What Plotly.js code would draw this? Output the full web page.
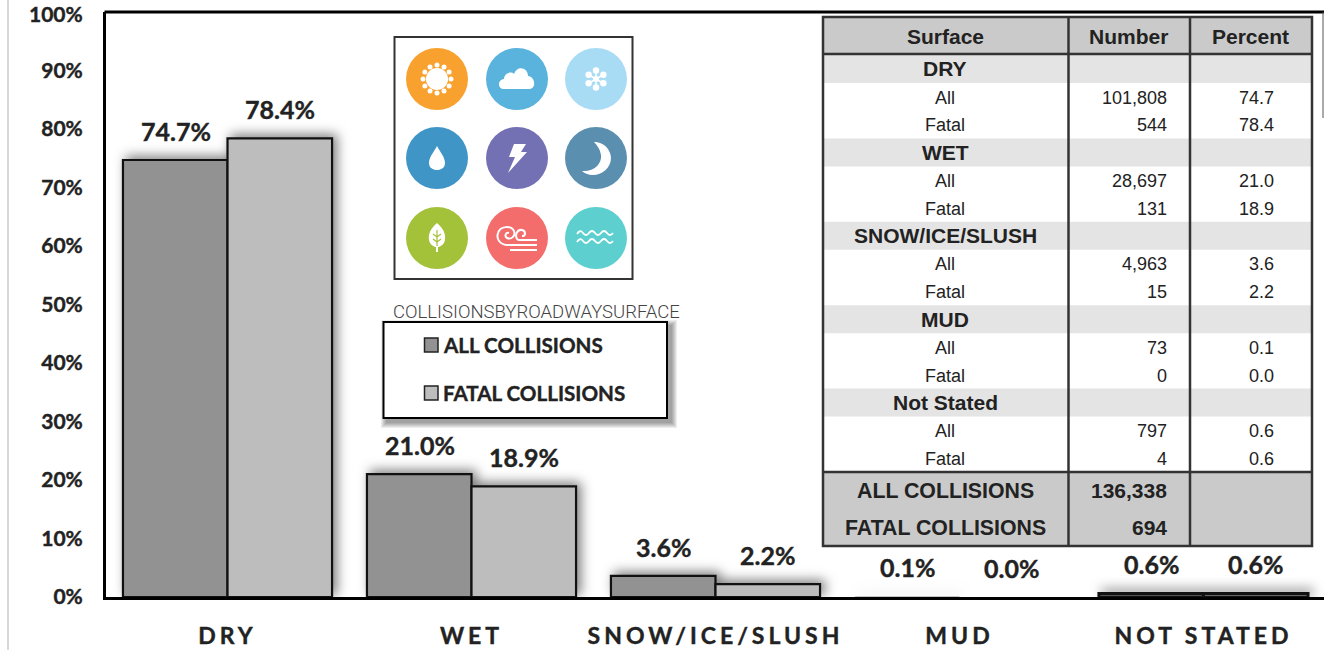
<!DOCTYPE html>
<html>
<head>
<meta charset="utf-8">
<script src="https://cdn.plot.ly/plotly-3.0.1.min.js"></script>
<style>
html,body{margin:0;padding:0;background:#fff;overflow:hidden}
#chart{width:1324px;height:650px}
.barlayer{filter:drop-shadow(4px -3px 6px rgba(0,0,0,.5))}
.xtick text{letter-spacing:4px}
text[style*="Lato"]{stroke:#222;stroke-width:.4px}
</style>
</head>
<body>
<div id="chart"></div>
<script>
var categories=['DRY','WET','SNOW/ICE/SLUSH','MUD','NOT STATED'];
var allCollisions=[74.7,21.0,3.6,0.1,0.6];
var fatalCollisions=[78.4,18.9,2.2,0.0,0.6];
var seriesNames=['ALL COLLISIONS','FATAL COLLISIONS'];
var yTicks=[0,10,20,30,40,50,60,70,80,90];
var yTopLabel='100%';
var tableHeader=['Surface','Number','Percent'];
var rowSurface=['DRY','All','Fatal','WET','All','Fatal','SNOW/ICE/SLUSH','All','Fatal','MUD','All','Fatal','Not Stated','All','Fatal'];
var rowNumber=['','101,808','544','','28,697','131','','4,963','15','','73','0','','797','4'];
var rowPercent=['','74.7','78.4','','21.0','18.9','','3.6','2.2','','0.1','0.0','','0.6','0.6'];
var totalLabels=['ALL COLLISIONS','FATAL COLLISIONS'];
var totalNumbers=['136,338','694'];
var chartTitleText='COLLISIONSBYROADWAYSURFACE';

var W=1324,H=650,L=106,T=12,B=53;
var PW=W-L,PH=H-T-B;
function px(x){return (x-L)/PW;}
function py(y){return 1-(y-T)/PH;}
var shapes=[],ann=[];
function rect(x0,y0,x1,y1,fill,lc,lw,op){
  shapes.push({type:'rect',xref:'paper',yref:'paper',x0:px(x0),x1:px(x1),y0:py(y0),y1:py(y1),
    fillcolor:fill,opacity:op===undefined?1:op,line:{color:lc||'rgba(0,0,0,0)',width:lw||0},layer:'above'});
}
function circle(cx,cy,r,fill){
  shapes.push({type:'circle',xref:'paper',yref:'paper',x0:px(cx-r),x1:px(cx+r),y0:py(cy-r),y1:py(cy+r),
    fillcolor:fill,line:{width:0},layer:'above'});
}
function line(x0,y0,x1,y1,c,w,layer){
  shapes.push({type:'line',xref:'paper',yref:'paper',x0:px(x0),x1:px(x1),y0:py(y0),y1:py(y1),
    line:{color:c,width:w},layer:layer||'above'});
}
function glyph(cx,cy,d,fill,stroke,sw){
  var isX=true;
  var out=d.replace(/-?\d+(\.\d+)?|[A-Za-z]/g,function(t){
    if(/[A-Za-z]/.test(t)){isX=true;return t;}
    var v=parseFloat(t),r;
    if(isX){r=px(cx+v).toFixed(6);}else{r=py(cy+v).toFixed(6);}
    isX=!isX;return r;
  });
  shapes.push({type:'path',xref:'paper',yref:'paper',path:out,fillcolor:fill||'rgba(0,0,0,0)',
    line:{color:stroke||'rgba(0,0,0,0)',width:sw||0},layer:'above'});
}
function label(x,y,text,size,anchor,family,weight,color){
  ann.push({xref:'paper',yref:'paper',x:px(x),y:py(y),text:text,showarrow:false,xanchor:anchor||'center',yanchor:'middle',
    font:{family:family||'Liberation Sans, Arial, sans-serif',size:size,color:color||'#222',weight:weight||400},
    borderpad:0,borderwidth:0,captureevents:false});
}

/* frame extras */
line(8,0,8,650,'#d8d8d8',2);
line(104.5,12,1324,12,'#000',3);
line(1323,12,1323,118,'#555',1);
label(83,14,yTopLabel,21,'right','Lato, sans-serif',700,'#222');

/* icon panel */
rect(394.5,37,632.5,279,'#fff','#333',2);
var ix=[437,517,596],iy=[79,158,238];
var iconColors=['#f9a12e','#5ab3dc','#a8dcf5','#3f95c6','#7470b4','#5a8fb0','#a3c139','#f46d6d','#5dcfcf'];
for(var r=0;r<3;r++)for(var c=0;c<3;c++)circle(ix[c],iy[r],31,iconColors[r*3+c]);
var i,a;
circle(ix[0],iy[0],11,'#fff');
for(i=0;i<12;i++){a=i*Math.PI/6;circle(ix[0]+14*Math.cos(a),iy[0]+14*Math.sin(a),2.5,'#fff');}
glyph(ix[1],iy[0],'M-14,10 C-19,10 -20,1 -13,0 C-13,-6 -6,-8 -3,-5 C0,-14 11,-12 11,-3 C18,-3 20,10 12,10 Z','#fff');
circle(ix[2],iy[0],3,'#fff');
for(i=0;i<6;i++){a=Math.PI/2+i*Math.PI/3;circle(ix[2]+8.5*Math.cos(a),iy[0]+8.5*Math.sin(a),3.2,'#fff');
  line(ix[2],iy[0],ix[2]+8*Math.cos(a),iy[0]+8*Math.sin(a),'#fff',1.5);}
glyph(ix[0],iy[1],'M0,-12 C3,-6 8,-1 8,5 C8,10 4,12 0,12 C-4,12 -8,10 -8,5 C-8,-1 -3,-6 0,-12 Z','#fff');
glyph(ix[1],iy[1],'M-3,-14 L9,-14 L4,-6 L10,-6 L-9,15 L-2,-1 L-8,-1 Z','#fff');
glyph(ix[2],iy[1],'M-2,-16 C10,-16 15,-6 15,0 C15,10 6,17 -3,17 C-8,17 -12,15 -14,13 C-2,14 6,6 5,-3 C4,-9 1,-13 -2,-16 Z','#fff');
glyph(ix[0],iy[2],'M0,-15 C6,-10 9,-4 8,2 C7,7 3,9 1,9 L1,14 L-1,14 L-1,9 C-3,9 -7,7 -8,2 C-9,-4 -6,-10 0,-15 Z','#fff');
glyph(ix[0],iy[2],'M0,-8 L0,8 M0,-1 L-4,-4 M0,-1 L4,-4 M0,4 L-4,1 M0,4 L4,1',null,'#a3c139',1.2);
glyph(ix[1],iy[2],'M-9,7 C-17,7 -21,1 -19,-5 C-17,-12 -6,-13 -3,-7 C-1,-2 -6,2 -10,0 C-13,-2 -11,-6 -8,-5',null,'#fff',2);
glyph(ix[1],iy[2],'M1,2 C-3,-2 0,-9 5,-8 C9,-7 9,-2 5,-2',null,'#fff',2);
glyph(ix[1],iy[2],'M-9,7 L20,7 M1,2 L20,2 M-7,12 L20,12',null,'#fff',2);
glyph(ix[2],iy[2],'M-19,-4 Q-16,-9 -13,-5 Q-10,-1 -7,-5 Q-4,-9 -1,-5 Q2,-1 5,-5 Q8,-9 11,-5 Q14,-1 17,-5',null,'#fff',1.8);
glyph(ix[2],iy[2],'M-19,4 Q-16,-1 -13,3 Q-10,7 -7,3 Q-4,-1 -1,3 Q2,7 5,3 Q8,-1 11,3 Q14,7 17,3',null,'#fff',1.8);

/* legend */
for(i=6;i>=1;i--)rect(383+4-i,322+4-i,667+4+i,418+4+i,'#000',null,0,0.07);
rect(383.5,322,667,418,'#fff','#000',2);
var seriesColors=['#929292','#bdbdbd'],legY=[345,393];
for(i=0;i<2;i++){
  rect(424.5,legY[i]-7,438,legY[i]+7,seriesColors[i],'#222',1.5);
  label(443,legY[i],seriesNames[i],20.6,'left','Lato, sans-serif',700,'#222');
}
ann.push({xref:'paper',yref:'paper',x:px(391),y:py(312),text:chartTitleText,showarrow:false,xanchor:'left',yanchor:'middle',
  font:{family:'Roboto, sans-serif',size:18.5,color:'#444',weight:300}});

/* table */
var tc=[823,1068.5,1190,1312],tTop=17,tHead=54,tRowsEnd=472,tEnd=546;
var rowH=27.8,rowC0=69;
rect(tc[0],tTop,tc[3],tHead,'#cacaca');
rect(tc[0],tHead,tc[3],tRowsEnd,'#fff');
rowSurface.forEach(function(s,k){
  var isHead=k%3===0,yc=rowC0+rowH*k;
  if(isHead)rect(tc[0],yc-14,tc[3],yc+14,'#e4e4e4');
  var yt=isHead?yc-0.2:yc+0.7;
  label(945,yt,isHead?'<b>'+s+'</b>':s,isHead?21:18);
  if(rowNumber[k])label(1167,yt,rowNumber[k],18,'right');
  if(rowPercent[k])label(1274,yt,rowPercent[k],18,'right');
});
rect(tc[0],tRowsEnd,tc[3],tEnd,'#cacaca');
label(945,36.5,'<b>'+tableHeader[0]+'</b>',21);
label(1128.5,36.5,'<b>'+tableHeader[1]+'</b>',21);
label(1250.5,36.5,'<b>'+tableHeader[2]+'</b>',21);
var totalY=[490.5,527.5];
totalLabels.forEach(function(s,k){
  label(945,totalY[k],'<b>'+s+'</b>',21.3);
  label(1167,totalY[k],'<b>'+totalNumbers[k]+'</b>',21,'right');
});
rect(tc[0],tTop,tc[3],tEnd,'rgba(0,0,0,0)','#333',2.5);
line(tc[1],tTop,tc[1],tEnd,'#333',2.5);
line(tc[2],tTop,tc[2],tEnd,'#333',2.5);
line(tc[0],tHead,tc[3],tHead,'#333',2.5);
line(tc[0],tRowsEnd,tc[3],tRowsEnd,'#333',2.5);

/* value labels */
[allCollisions,fatalCollisions].forEach(function(vals,s){
  vals.forEach(function(v,k){
    ann.push({xref:'x',yref:'y',x:k,y:v,text:v.toFixed(1)+'%',showarrow:false,xanchor:'center',yanchor:'middle',
      xshift:s===0?-52:52,yshift:29,font:{family:'Lato, sans-serif',size:25,color:'#222',weight:700}});
  });
});

var barLineWidths=[2.2,2.2,2.2,0,3];
function barTrace(name,vals,color){
  return {type:'bar',name:name,x:categories,y:vals,marker:{color:color,line:{color:'#111',width:barLineWidths}},hoverinfo:'skip'};
}
Plotly.newPlot('chart',[barTrace(seriesNames[0],allCollisions,seriesColors[0]),barTrace(seriesNames[1],fatalCollisions,seriesColors[1])],{
  width:W,height:H,
  margin:{l:L,r:0,t:T,b:B,pad:0},
  paper_bgcolor:'#fff',plot_bgcolor:'#fff',
  barmode:'group',bargap:0.143,bargroupgap:0,showlegend:false,
  xaxis:{type:'category',categoryorder:'array',categoryarray:categories,range:[-0.498,4.494],
    showline:true,linecolor:'#000',linewidth:3,showgrid:false,zeroline:false,ticks:'',ticklabelstandoff:16,ticklabeloverflow:'allow',
    tickfont:{family:'Lato, sans-serif',size:23,color:'#222',weight:700}},
  yaxis:{range:[0,100],tickmode:'array',tickvals:yTicks,ticktext:yTicks.map(function(v){return v+'%';}),
    showline:true,linecolor:'#000',linewidth:3,showgrid:false,zeroline:false,
    ticks:'',ticklabelstandoff:16,
    tickfont:{family:'Lato, sans-serif',size:21,color:'#222',weight:700}},
  shapes:shapes,annotations:ann
},{staticPlot:true,displayModeBar:false});
</script>
</body>
</html>
